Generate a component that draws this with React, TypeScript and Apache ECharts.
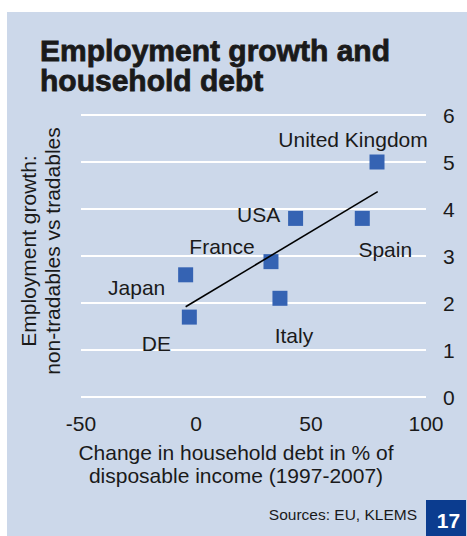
import React, { useEffect, useRef } from "react";
import * as echarts from "echarts";

// ---- data ----
const countries = ["United Kingdom", "USA", "Spain", "France", "Japan", "Italy", "DE"];
const debtChange = [78.7, 43.3, 72.3, 32.6, -4.5, 36.5, -2.9];
const employmentGrowth = [5.0, 3.8, 3.8, 2.88, 2.6, 2.1, 1.7];
const trendX = [-4.5, 79];
const trendY = [1.92, 4.37];
const xTicks = { min: -50, max: 100, step: 50 };
const yTicks = { min: 0, max: 6, step: 1 };

const titleText = "Employment growth and\nhousehold debt";
const xAxisTitle = "Change in household debt in % of\ndisposable income (1997-2007)";
const yAxisTitle = "Employment growth:\nnon-tradables vs tradables";
const sourceText = "Sources: EU, KLEMS";
const pageNumber = "17";

// ---- style (label offsets in px from the marker centre) ----
const labelOffsets: Record<string, [number, number]> = {
  "United Kingdom": [-24, -23],
  USA: [-37, -4],
  Spain: [23, 31],
  France: [-49, -15],
  Japan: [-49, 13],
  Italy: [14, 37],
  DE: [-33, 26],
};

const FONT = "'Liberation Sans', Arial, Helvetica, sans-serif";
const TEXT = "#1a1a1a";
const PANEL = "#ccd8ea";
const MARK = "#3563b3";
const BOX = "#0b3c8f";

export default function App() {
  const ref = useRef<HTMLDivElement>(null);

  useEffect(() => {
    if (!ref.current) return;
    const chart = echarts.init(ref.current, undefined, { renderer: "svg" });

    const scatterData = countries.map((name, i) => ({
      name,
      value: [debtChange[i], employmentGrowth[i]],
      label: { offset: labelOffsets[name] },
    }));

    chart.setOption({
      animation: false,
      backgroundColor: "#ffffff",
      textStyle: { fontFamily: FONT },
      grid: { left: 81, right: 41, top: 115, bottom: 139, containLabel: false },
      xAxis: {
        type: "value",
        min: xTicks.min,
        max: xTicks.max,
        interval: xTicks.step,
        axisLine: { show: false },
        axisTick: { show: false },
        splitLine: { show: false },
        axisLabel: { color: TEXT, fontSize: 21, fontFamily: FONT, margin: 16 },
      },
      yAxis: {
        type: "value",
        position: "right",
        min: yTicks.min,
        max: yTicks.max,
        interval: yTicks.step,
        axisLine: { show: false },
        axisTick: { show: false },
        splitLine: { show: true, lineStyle: { color: "#ffffff", width: 2 } },
        axisLabel: { color: TEXT, fontSize: 21, fontFamily: FONT, margin: 17 },
      },
      series: [
        {
          type: "scatter",
          z: 2,
          symbol: "rect",
          symbolSize: 15,
          itemStyle: { color: MARK, opacity: 1 },
          label: {
            show: true,
            position: "inside",
            formatter: "{b}",
            color: TEXT,
            fontSize: 21,
            fontFamily: FONT,
            align: "center",
            verticalAlign: "middle",
          },
          data: scatterData,
        },
        {
          type: "line",
          z: 3,
          symbol: "none",
          lineStyle: { color: "#000000", width: 1.6 },
          data: trendX.map((x, i) => [x, trendY[i]]),
        },
      ],
      graphic: [
        {
          type: "rect",
          z: -100,
          silent: true,
          shape: { x: 7, y: 12, width: 460, height: 524 },
          style: { fill: PANEL },
        },
        {
          type: "text",
          x: 40,
          y: 35.5,
          style: {
            text: titleText,
            font: `bold 30px ${FONT}`,
            fill: TEXT,
            stroke: TEXT,
            lineWidth: 0.8,
            lineHeight: 30,
            textAlign: "left",
            textVerticalAlign: "top",
          },
        },
        {
          type: "text",
          x: 236,
          y: 464,
          style: {
            text: xAxisTitle,
            font: `21px ${FONT}`,
            fill: TEXT,
            lineHeight: 23,
            textAlign: "center",
            textVerticalAlign: "middle",
          },
        },
        {
          type: "text",
          x: 40,
          y: 251,
          rotation: Math.PI / 2,
          style: {
            text: yAxisTitle,
            font: `21px ${FONT}`,
            fill: TEXT,
            lineHeight: 24,
            textAlign: "center",
            textVerticalAlign: "middle",
          },
        },
        {
          type: "text",
          x: 417,
          y: 514.5,
          style: {
            text: sourceText,
            font: `15.5px ${FONT}`,
            fill: TEXT,
            textAlign: "right",
            textVerticalAlign: "middle",
          },
        },
        {
          type: "rect",
          shape: { x: 426, y: 500, width: 40, height: 36 },
          style: { fill: BOX },
        },
        {
          type: "text",
          x: 448.5,
          y: 520,
          style: {
            text: pageNumber,
            font: `bold 21px ${FONT}`,
            fill: "#ffffff",
            textAlign: "center",
            textVerticalAlign: "middle",
          },
        },
      ],
    });

    return () => chart.dispose();
  }, []);

  return (
    <div
      ref={ref}
      style={{ position: "fixed", left: 0, top: 0, width: 467, height: 536 }}
    />
  );
}
